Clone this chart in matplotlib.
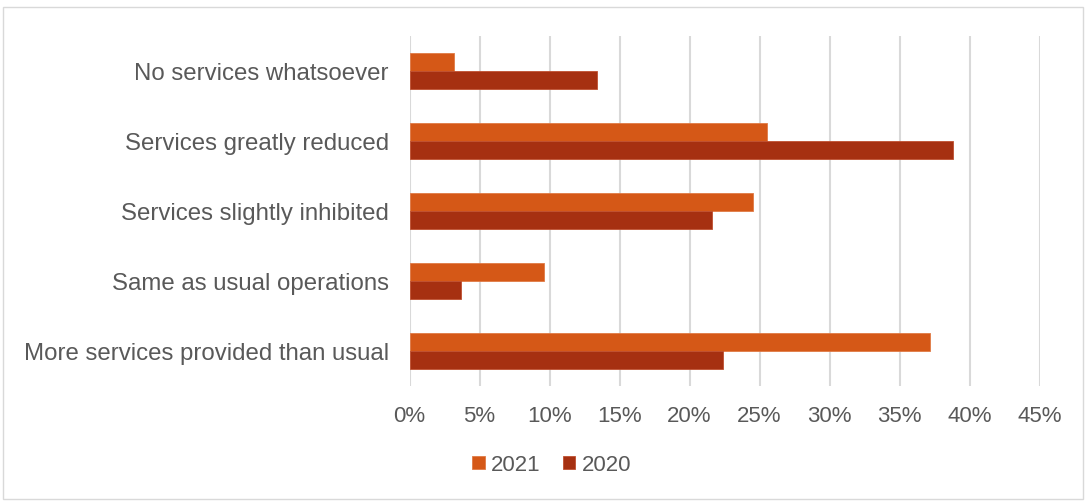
import numpy as np
import matplotlib.pyplot as plt
from matplotlib.patches import Rectangle

plt.rcParams['font.family'] = ['Liberation Sans', 'DejaVu Sans']

categories = ['No services whatsoever', 'Services greatly reduced', 'Services slightly inhibited',
              'Same as usual operations', 'More services provided than usual']
vals_2021 = [3.2, 25.5, 24.5, 9.6, 37.2]
vals_2020 = [13.4, 38.8, 21.6, 3.7, 22.4]
xticks = [0, 5, 10, 15, 20, 25, 30, 35, 40, 45]

c2021 = '#D55817'
c2020 = '#A63011'
txt = '#595959'

fig = plt.figure(figsize=(10.87, 5.02), dpi=100)
ax = fig.add_axes([409.5 / 1087, 1 - 387 / 502, 630 / 1087, 350 / 502])

y = np.arange(len(categories))
h = 0.257
ax.barh(y - h / 2, vals_2021, height=h, color=c2021, edgecolor='#E07A45', linewidth=0.6, label='2021', zorder=3)
ax.barh(y + h / 2, vals_2020, height=h, color=c2020, edgecolor='#C05030', linewidth=0.6, label='2020', zorder=3)

ax.set_xlim(0, 45)
ax.set_ylim(len(categories) - 0.5, -0.5)
ax.set_xticks(xticks)
ax.set_xticklabels([f'{t}%' for t in xticks])
ax.set_yticks(y)
ax.set_yticklabels(categories)
ax.tick_params(axis='both', length=0, colors=txt)
ax.tick_params(axis='x', labelsize=16, pad=14)
ax.tick_params(axis='y', labelsize=17.3, pad=15)
ax.grid(axis='x', color='#D9D9D9', linewidth=1.5, zorder=0)
for s in ax.spines.values():
    s.set_visible(False)

fig.legend(loc='center', bbox_to_anchor=(552 / 1087, 1 - 466 / 502), ncol=2, frameon=False,
           fontsize=16, labelcolor=txt, handlelength=0.55, handleheight=0.55,
           handletextpad=0.3, columnspacing=1.0)

fig.patches.append(Rectangle((3 / 1087, 2 / 502), 1080 / 1087, 492 / 502, transform=fig.transFigure,
                             fill=False, edgecolor='#D9D9D9', linewidth=1))

fig.savefig('out.png', dpi=100)
